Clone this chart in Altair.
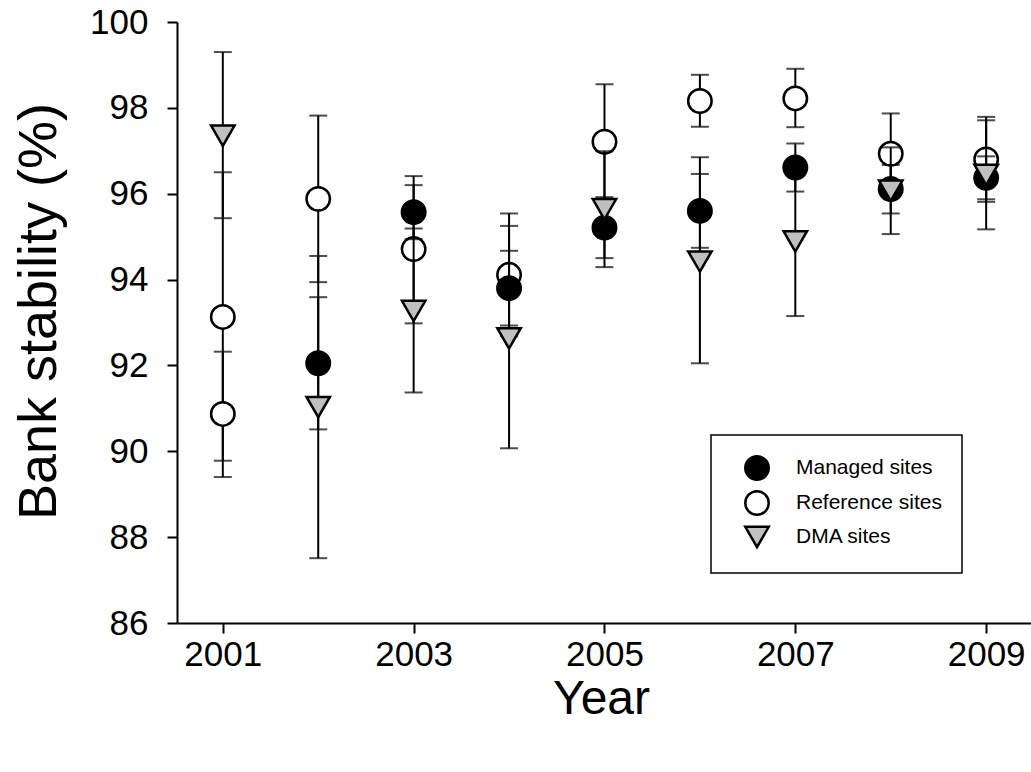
import altair as alt
import pandas as pd

# Bank stability (%) by year, mean with lower/upper error limits
series_order = ["Managed sites", "Reference sites", "DMA sites"]

managed_years = [2002, 2003, 2004, 2005, 2006, 2007, 2008, 2009]
managed_mean = [92.05, 95.57, 93.80, 95.21, 95.60, 96.61, 96.11, 96.37]
managed_low = [90.51, 94.94, 92.93, 94.50, 94.74, 96.05, 95.54, 95.87]
managed_high = [93.59, 96.20, 94.67, 95.92, 96.46, 97.17, 96.67, 96.87]

reference_years = [2001, 2001, 2002, 2003, 2004, 2005, 2006, 2007, 2008, 2009]
reference_mean = [93.13, 90.87, 95.88, 94.71, 94.11, 97.21, 98.16, 98.22, 96.93, 96.80]
reference_low = [89.78, 89.40, 93.94, 92.98, 92.68, 95.88, 97.56, 97.55, 95.99, 95.81]
reference_high = [96.50, 92.32, 97.82, 96.41, 95.54, 98.55, 98.77, 98.91, 97.87, 97.79]

dma_years = [2001, 2002, 2003, 2004, 2005, 2006, 2007, 2008, 2009]
dma_mean = [97.35, 91.03, 93.27, 92.63, 95.64, 94.42, 94.89, 96.07, 96.44]
dma_low = [95.43, 87.51, 91.37, 90.07, 94.29, 92.05, 93.15, 95.06, 95.17]
dma_high = [99.30, 94.55, 95.19, 95.25, 96.99, 96.85, 96.63, 97.08, 97.71]

x_ticks = [2001, 2003, 2005, 2007, 2009]
y_ticks = [86, 88, 90, 92, 94, 96, 98, 100]


def frame(name, years, mean, low, high):
    return pd.DataFrame({"series": name, "year": years, "mean": mean,
                         "low": low, "high": high})


data = pd.concat([
    frame("Managed sites", managed_years, managed_mean, managed_low, managed_high),
    frame("Reference sites", reference_years, reference_mean, reference_low, reference_high),
    frame("DMA sites", dma_years, dma_mean, dma_low, dma_high),
], ignore_index=True)

font = "Liberation Sans"

x_scale = alt.Scale(domain=[2000.52, 2009.47], nice=False, zero=False)
y_scale = alt.Scale(domain=[86, 100], nice=False, zero=False)

x_enc = alt.X("year:Q", scale=x_scale,
              axis=alt.Axis(values=x_ticks, format="d", title="Year",
                            labelPadding=4, titleFontSize=48,
                            titleX=424, titleY=76, titleBaseline="middle"))
y_enc = alt.Y("mean:Q", scale=y_scale,
              axis=alt.Axis(values=y_ticks, title="Bank stability (%)",
                            labelPadding=19, titleFontSize=54,
                            titleAngle=270, titleX=-138, titleY=289,
                            titleAlign="center", titleBaseline="middle"))

shape_enc = alt.Shape("series:N",
                      scale=alt.Scale(domain=series_order,
                                      range=["circle", "circle", "triangle-down"]),
                      legend=alt.Legend(title=None))
fill_enc = alt.Fill("series:N",
                    scale=alt.Scale(domain=series_order,
                                    range=["#000000", "#ffffff", "#c0c0c0"]),
                    legend=alt.Legend(title=None))
stroke_enc = alt.Stroke("series:N",
                        scale=alt.Scale(domain=series_order,
                                        range=["#000000", "#000000", "#000000"]),
                        legend=alt.Legend(title=None))

base = alt.Chart(data)

layers = []
# Each series draws its error bars, caps, then its symbols
for name in ["Reference sites", "Managed sites", "DMA sites"]:
    sub = base.transform_filter(alt.datum.series == name)
    bars = sub.mark_rule(color="black", strokeWidth=2).encode(
        x=x_enc, y=alt.Y("low:Q", scale=y_scale), y2="high:Q")
    cap_low = sub.mark_tick(orient="horizontal", size=18, thickness=2,
                            color="black").encode(
        x=x_enc, y=alt.Y("low:Q", scale=y_scale))
    cap_high = sub.mark_tick(orient="horizontal", size=18, thickness=2,
                             color="black").encode(
        x=x_enc, y=alt.Y("high:Q", scale=y_scale))
    points = sub.mark_point(filled=True, strokeWidth=2.5,
                            size=550, opacity=1, fillOpacity=1).encode(
        x=x_enc, y=y_enc, shape=shape_enc, fill=fill_enc, stroke=stroke_enc)
    layers += [bars, cap_low, cap_high, points]

chart = alt.layer(*layers).properties(
    width=854, height=601,
    autosize=alt.AutoSizeParams(type="none"),
    padding={"left": 177, "top": 22, "right": 0, "bottom": 149},
).configure_view(stroke=None).configure_axis(
    grid=False, domainColor="black", domainWidth=2, tickColor="black",
    tickWidth=2, tickSize=10, labelColor="black", labelFont=font,
    labelFontSize=35, titleFont=font, titleColor="black",
    titleFontWeight="normal",
).configure_legend(
    orient="none", legendX=534, legendY=413, padding=20,
    strokeColor="black", strokeWidth=1.5, fillColor="white",
    symbolSize=550, symbolStrokeWidth=2.5,
    symbolOffset=13, labelOffset=26, labelFont=font, labelFontSize=21,
    labelColor="black", rowPadding=1,
)

chart.save("out.html", embed_options={"renderer": "svg", "actions": False})
